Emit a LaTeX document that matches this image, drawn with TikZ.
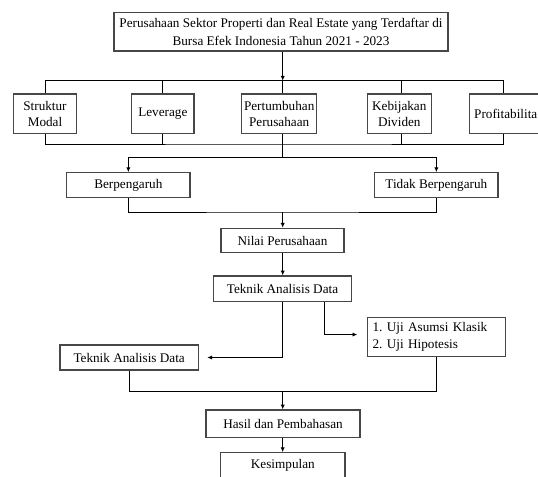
\documentclass[tikz,border=0pt]{standalone}
\usepackage{fontspec}
\setmainfont{Liberation Serif}
\usetikzlibrary{arrows.meta,calc}
\begin{document}
\begin{tikzpicture}[x=0.75pt,y=-0.75pt,
  box/.style={draw=black!72,line width=0.85pt,inner sep=0pt,align=center,
    font=\fontsize{9.9}{12}\selectfont},
  ln/.style={line width=0.75pt,draw=black},
  arr/.style={ln,-{Latex[length=3.6pt,width=3.2pt]}}]
\path[use as bounding box] (0,0) rectangle (538,476);
\clip (0,0) rectangle (538,476);
% nodes
\node[box,minimum width=250.5pt,minimum height=28.7pt,font=\fontsize{9.9}{13.5}\selectfont] (top) at (281,31.85)
  {Perusahaan Sektor Properti dan Real Estate yang Terdaftar di\\Bursa Efek Indonesia Tahun 2021 - 2023};
\node[box,minimum width=47.55pt,minimum height=29.5pt] (sm) at (45,113.65) {Struktur\\Modal};
\node[box,minimum width=46.7pt,minimum height=29.5pt] (lev) at (162.85,113.65) {Leverage};
\node[box,minimum width=56.25pt,minimum height=29.5pt] (pert) at (279.2,113.65) {Pertumbuhan\\Perusahaan};
\node[box,minimum width=48pt,minimum height=29.5pt] (keb) at (399.3,113.65) {Kebijakan\\Dividen};
\node[box,anchor=west,inner xsep=3.5pt,text width=50.7pt,align=left,minimum height=29.5pt] (prof) at (469,113.65) {Profitabilita};
\node[box,minimum width=92.5pt,minimum height=18.75pt] (ber) at (128.35,185.2) {Berpengaruh};
\node[box,minimum width=92.5pt,minimum height=18.75pt] (tid) at (436.35,185.2) {Tidak Berpengaruh};
\node[box,minimum width=92.25pt,minimum height=18.3pt] (nil) at (282.5,240.5) {Nilai Perusahaan};
\node[box,minimum width=103.8pt,minimum height=19.3pt] (tek) at (282.5,288.85) {Teknik Analisis Data};
\node[box,minimum width=103.7pt,minimum height=18.75pt] (tekl) at (129.15,357.5) {Teknik Analisis Data};
\node[box,anchor=north west,inner xsep=3.5pt,text width=96.5pt,minimum height=28.8pt,align=left,
  font=\fontsize{9.9}{12.5}\selectfont] (uji) at (367.3,317.3) {1.\ Uji Asumsi Klasik\\2.\ Uji Hipotesis};
\node[box,minimum width=115.5pt,minimum height=20.8pt] (has) at (283,423.85) {Hasil dan Pembahasan};
\node[box,minimum width=93.2pt,minimum height=18.75pt] (kes) at (282.85,465.2) {Kesimpulan};
% junctions
\coordinate (b1) at (282.7,80.7);
\coordinate (b2) at (282.7,144);
\coordinate (b3) at (282.7,157.3);
\coordinate (b4) at (282.7,212);
\coordinate (b5) at (282.7,391);
\coordinate (xkeb) at (401.3,0);
\coordinate (xprof) at (503,0);
\coordinate (xr) at (324.3,0);
% connectors
\draw[arr] (top.south -| b1) -- (b1);
\draw[ln] (sm.north) |- (b1) -| (prof.north -| xprof);
\draw[ln] (lev.north) -- (lev.north |- b1);
\draw[ln] (pert.north -| b1) -- (b1);
\draw[ln] (keb.north -| xkeb) -- (xkeb |- b1);
\draw[ln] (sm.south) |- (b2) -| (prof.south -| xprof);
\draw[ln] (lev.south) -- (lev.south |- b2);
\draw[ln] (pert.south -| b2) -- (b2);
\draw[ln] (keb.south -| xkeb) -- (xkeb |- b2);
\draw[ln] (b2) -- (b3);
\draw[arr] (b3) -| (ber.north);
\draw[arr] (b3) -| (tid.north);
\draw[ln] (ber.south) |- (b4) -| (tid.south);
\draw[arr] (b4) -- (nil.north -| b4);
\draw[arr] (nil.south -| b4) -- (tek.north -| b4);
\draw[arr] (tek.south -| b4) |- ([xshift=6.3pt]tekl.east);
\draw[arr] (tek.south -| xr) |- ([xshift=-7.5pt,yshift=1.9pt]uji.west);
\draw[ln] (tekl.south) |- (b5) -| (uji.south);
\draw[arr] (b5) -- (has.north -| b5);
\draw[arr] (has.south -| b5) -- (kes.north -| b5);
\end{tikzpicture}
\end{document}
